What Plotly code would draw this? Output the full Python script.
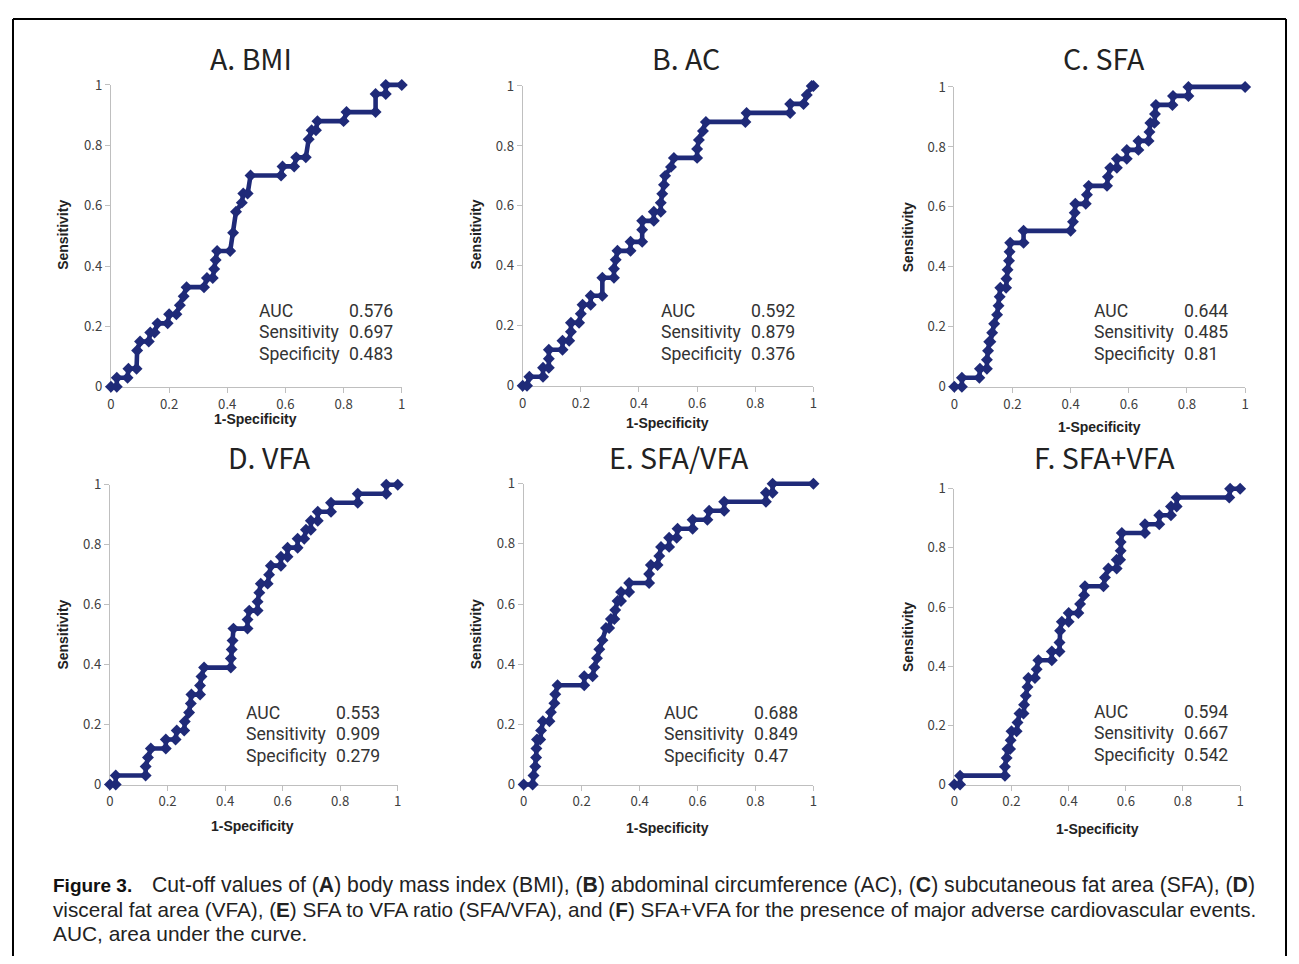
import plotly.graph_objects as go

# The page keeps the browser's default 8px body margin, so the figure is 16px smaller than the window.
WIN_W, WIN_H = 1299, 964
OFF = 8
FW, FH = WIN_W - 2 * OFF, WIN_H - 2 * OFF
# measured capture transform of the photographed page (window px -> picture px)
SX, OX = 0.9945, 3.0
SY, OY = 0.9805, 10.2
FS = 1 / 0.985  # font compensation

titles = ["A. BMI", "B. AC", "C. SFA", "D. VFA", "E. SFA/VFA", "F. SFA+VFA"]
stat_labels = ["AUC", "Sensitivity", "Specificity"]
auc = ["0.576", "0.592", "0.644", "0.553", "0.688", "0.594"]
sens = ["0.697", "0.879", "0.485", "0.909", "0.849", "0.667"]
spec = ["0.483", "0.376", "0.81", "0.279", "0.47", "0.542"]
tick_vals = [0, 0.2, 0.4, 0.6, 0.8, 1]
tick_text = ["0", "0.2", "0.4", "0.6", "0.8", "1"]

bmi_fpr = [0, 0.02, 0.02, 0.057, 0.06, 0.088, 0.09, 0.10, 0.13, 0.135, 0.15, 0.16, 0.195, 0.20, 0.225, 0.237,
           0.25, 0.26, 0.32, 0.33, 0.35, 0.355, 0.36, 0.365, 0.41, 0.42, 0.43, 0.45, 0.455, 0.47, 0.48, 0.585,
           0.59, 0.63, 0.637, 0.67, 0.68, 0.69, 0.705, 0.71, 0.80, 0.81, 0.91, 0.91, 0.945, 0.945, 1.0]
bmi_tpr = [0, 0, 0.03, 0.03, 0.06, 0.06, 0.12, 0.15, 0.15, 0.18, 0.18, 0.21, 0.21, 0.24, 0.24, 0.27,
           0.30, 0.33, 0.33, 0.36, 0.36, 0.39, 0.42, 0.45, 0.45, 0.51, 0.58, 0.61, 0.64, 0.64, 0.70, 0.70,
           0.73, 0.73, 0.76, 0.76, 0.82, 0.85, 0.85, 0.88, 0.88, 0.91, 0.91, 0.97, 0.97, 1.0, 1.0]

ac_fpr = [0, 0.015, 0.023, 0.07, 0.07, 0.09, 0.09, 0.09, 0.137, 0.137, 0.16, 0.166, 0.166, 0.194, 0.20, 0.206,
          0.234, 0.234, 0.274, 0.274, 0.314, 0.314, 0.32, 0.326, 0.371, 0.371, 0.411, 0.411, 0.411, 0.451,
          0.451, 0.475, 0.475, 0.48, 0.486, 0.49, 0.51, 0.52, 0.60, 0.60, 0.606, 0.62, 0.63, 0.766, 0.77,
          0.92, 0.92, 0.966, 0.977, 0.994, 1.0]
ac_tpr = [0, 0, 0.03, 0.03, 0.06, 0.06, 0.09, 0.12, 0.12, 0.15, 0.15, 0.18, 0.21, 0.21, 0.24, 0.27,
          0.27, 0.30, 0.30, 0.36, 0.36, 0.39, 0.42, 0.45, 0.45, 0.48, 0.48, 0.52, 0.55, 0.55,
          0.58, 0.58, 0.61, 0.64, 0.67, 0.70, 0.73, 0.76, 0.76, 0.79, 0.82, 0.85, 0.88, 0.88, 0.91,
          0.91, 0.94, 0.94, 0.97, 1.0, 1.0]

sfa_fpr = [0, 0.026, 0.026, 0.086, 0.088, 0.112, 0.112, 0.116, 0.12, 0.124, 0.13, 0.137, 0.147, 0.152, 0.156,
           0.158, 0.178, 0.179, 0.183, 0.188, 0.19, 0.192, 0.238, 0.238, 0.40, 0.408, 0.414, 0.416, 0.452, 0.456,
           0.462, 0.525, 0.528, 0.536, 0.559, 0.559, 0.593, 0.593, 0.633, 0.633, 0.668, 0.671, 0.674, 0.688,
           0.69, 0.693, 0.75, 0.752, 0.805, 0.805, 1.0]
sfa_tpr = [0, 0, 0.03, 0.03, 0.06, 0.06, 0.09, 0.12, 0.15, 0.15, 0.18, 0.21, 0.24, 0.27, 0.30,
           0.33, 0.33, 0.36, 0.39, 0.42, 0.45, 0.48, 0.48, 0.52, 0.52, 0.55, 0.58, 0.61, 0.61, 0.64,
           0.67, 0.67, 0.70, 0.73, 0.73, 0.76, 0.76, 0.79, 0.79, 0.82, 0.82, 0.85, 0.88, 0.88,
           0.91, 0.94, 0.94, 0.97, 0.97, 1.0, 1.0]

vfa_fpr = [0, 0.02, 0.02, 0.124, 0.124, 0.132, 0.142, 0.194, 0.194, 0.228, 0.232, 0.258, 0.26, 0.275, 0.281,
           0.283, 0.313, 0.313, 0.318, 0.327, 0.42, 0.42, 0.423, 0.426, 0.429, 0.478, 0.478, 0.484, 0.513, 0.513,
           0.519, 0.524, 0.548, 0.553, 0.559, 0.594, 0.594, 0.617, 0.617, 0.652, 0.652, 0.675, 0.681, 0.698,
           0.698, 0.722, 0.722, 0.768, 0.768, 0.861, 0.861, 0.96, 0.96, 1.0]
vfa_tpr = [0, 0, 0.03, 0.03, 0.06, 0.09, 0.12, 0.12, 0.15, 0.15, 0.18, 0.18, 0.21, 0.24, 0.27,
           0.30, 0.30, 0.33, 0.36, 0.39, 0.39, 0.42, 0.45, 0.48, 0.52, 0.52, 0.55, 0.58, 0.58, 0.61,
           0.64, 0.67, 0.67, 0.70, 0.73, 0.73, 0.76, 0.76, 0.79, 0.79, 0.82, 0.82, 0.85, 0.85,
           0.88, 0.88, 0.91, 0.91, 0.94, 0.94, 0.97, 0.97, 1.0, 1.0]

ratio_fpr = [0, 0.031, 0.034, 0.04, 0.043, 0.044, 0.046, 0.057, 0.06, 0.066, 0.089, 0.094, 0.106, 0.109, 0.117,
             0.209, 0.209, 0.238, 0.244, 0.253, 0.261, 0.272, 0.284, 0.295, 0.301, 0.313, 0.316, 0.324, 0.336,
             0.336, 0.364, 0.364, 0.433, 0.433, 0.439, 0.462, 0.468, 0.474, 0.502, 0.502, 0.528, 0.531, 0.583,
             0.583, 0.634, 0.64, 0.692, 0.692, 0.836, 0.836, 0.859, 0.859, 1.0]
ratio_tpr = [0, 0, 0.03, 0.06, 0.09, 0.12, 0.15, 0.15, 0.18, 0.21, 0.21, 0.24, 0.27, 0.30, 0.33,
             0.33, 0.36, 0.36, 0.39, 0.42, 0.45, 0.48, 0.52, 0.52, 0.55, 0.55, 0.58, 0.61, 0.61,
             0.64, 0.64, 0.67, 0.67, 0.70, 0.73, 0.73, 0.76, 0.79, 0.79, 0.82, 0.82, 0.85, 0.85,
             0.88, 0.88, 0.91, 0.91, 0.94, 0.94, 0.97, 0.97, 1.0, 1.0]

sum_fpr = [0, 0.02, 0.02, 0.177, 0.177, 0.183, 0.186, 0.195, 0.197, 0.2, 0.218, 0.221, 0.228, 0.242, 0.244,
           0.25, 0.256, 0.259, 0.282, 0.288, 0.294, 0.341, 0.341, 0.368, 0.368, 0.37, 0.376, 0.4, 0.4, 0.434,
           0.44, 0.454, 0.457, 0.522, 0.527, 0.539, 0.568, 0.568, 0.58, 0.582, 0.582, 0.586, 0.667, 0.667,
           0.717, 0.717, 0.758, 0.758, 0.778, 0.778, 0.962, 0.965, 1.0]
sum_tpr = [0, 0, 0.03, 0.03, 0.06, 0.09, 0.12, 0.12, 0.15, 0.18, 0.18, 0.21, 0.24, 0.24, 0.27,
           0.30, 0.33, 0.36, 0.36, 0.39, 0.42, 0.42, 0.45, 0.45, 0.48, 0.52, 0.55, 0.55, 0.58, 0.58,
           0.61, 0.64, 0.67, 0.67, 0.70, 0.73, 0.73, 0.76, 0.76, 0.79, 0.82, 0.85, 0.85, 0.88,
           0.88, 0.91, 0.91, 0.94, 0.94, 0.97, 0.97, 1.0, 1.0]

curves = [(bmi_fpr, bmi_tpr), (ac_fpr, ac_tpr), (sfa_fpr, sfa_tpr),
          (vfa_fpr, vfa_tpr), (ratio_fpr, ratio_tpr), (sum_fpr, sum_tpr)]

# layout geometry (target picture pixels)
boxes = [(110, 401, 85, 387), (522, 813, 86, 386), (954, 1245, 87, 387),
         (109, 397, 485, 785), (523, 813, 484, 785), (954, 1240, 489, 785)]
title_pos = [(250, 58), (685, 58), (1104, 58), (269, 457), (678, 457), (1104, 457)]
xt_pos = [(255, 419), (667, 423), (1099, 427), (252, 826), (667, 828), (1097, 829)]
yt_pos = [(62, 235), (475, 235), (907, 237), (62, 635), (475, 635), (907, 637)]
stat_pos = [(256, 346, 311), (658, 749, 311), (1092, 1182, 311),
            (243, 333, 713), (661, 752, 713), (1092, 1182, 712)]
LINE_GAP = 21.7


def px(x):
    return ((x - OX) / SX - OFF) / FW


def py(y):
    return 1 - ((y - OY) / SY - OFF) / FH


PAD = 12  # extra pixels around each curve's drawing area so thick lines on the edges are not clipped

NAVY = "#1f2a78"
TXT = "#404040"
FONT = "Noto Sans CJK JP, Noto Sans, sans-serif"
STAT_FONT = "Roboto, Noto Sans, sans-serif"
BOLD = "Liberation Sans, Arial, sans-serif"

fig = go.Figure()
annotations = []
for i, ((fx, ty), (x0, x1, y0, y1)) in enumerate(zip(curves, boxes)):
    va = "" if i == 0 else str(2 * i + 1)     # visible axes
    ca = str(2 * i + 2)                       # curve axes (hidden, padded)
    ex = PAD / (x1 - x0)
    ey = PAD / (y1 - y0)
    axcommon = dict(range=[0, 1], showgrid=False, zeroline=False, showline=True, linecolor="#bfbfbf",
                    linewidth=1, ticks="outside", ticklen=5, tickcolor="#bfbfbf", tickvals=tick_vals,
                    ticktext=tick_text, tickfont=dict(family=FONT, size=13 * FS, color=TXT), fixedrange=True)
    fig.layout["xaxis" + va] = dict(domain=[px(x0), px(x1)], anchor="y" + va, **axcommon)
    fig.layout["yaxis" + va] = dict(domain=[py(y1), py(y0)], anchor="x" + va, **axcommon)
    hidden = dict(showgrid=False, zeroline=False, showline=False, showticklabels=False, ticks="",
                  fixedrange=True)
    fig.layout["xaxis" + ca] = dict(domain=[px(x0 - PAD), px(x1 + PAD)], range=[-ex, 1 + ex],
                                    anchor="y" + ca, **hidden)
    fig.layout["yaxis" + ca] = dict(domain=[py(y1 + PAD), py(y0 - PAD)], range=[-ey, 1 + ey],
                                    anchor="x" + ca, **hidden)
    # invisible copy so the visible axes get drawn
    fig.add_trace(go.Scatter(x=fx, y=ty, mode="lines", xaxis="x" + va, yaxis="y" + va, opacity=0,
                             line=dict(width=0), showlegend=False, hoverinfo="skip"))
    fig.add_trace(go.Scatter(
        x=fx, y=ty, mode="lines+markers", xaxis="x" + ca, yaxis="y" + ca,
        line=dict(color=NAVY, width=4.6), marker=dict(symbol="diamond", size=9.2, color=NAVY),
        cliponaxis=False, showlegend=False, hoverinfo="skip"))

    tx, tyy = title_pos[i]
    annotations.append(dict(x=px(tx), y=py(tyy), text=titles[i], showarrow=False, xref="paper", yref="paper",
                            xanchor="center", yanchor="middle",
                            font=dict(family=FONT, size=28.5, color="#222222")))
    ax_, ay_ = xt_pos[i]
    annotations.append(dict(x=px(ax_), y=py(ay_), text="<b>1-Specificity</b>", showarrow=False, xref="paper",
                            yref="paper", xanchor="center", yanchor="middle",
                            font=dict(family=BOLD, size=14, color="#222222")))
    bx_, by_ = yt_pos[i]
    annotations.append(dict(x=px(bx_), y=py(by_), text="<b>Sensitivity</b>", showarrow=False, xref="paper",
                            yref="paper", xanchor="center", yanchor="middle", textangle=-90,
                            font=dict(family=BOLD, size=14, color="#222222")))
    lx, vx, sy = stat_pos[i]
    for k, (lab, val) in enumerate(zip(stat_labels, [auc[i], sens[i], spec[i]])):
        yy = sy + k * LINE_GAP
        annotations.append(dict(x=px(lx), y=py(yy), text=lab, showarrow=False, xref="paper", yref="paper",
                                xanchor="left", yanchor="middle",
                                font=dict(family=STAT_FONT, size=17.6, color="#333333")))
        annotations.append(dict(x=px(vx), y=py(yy), text=val, showarrow=False, xref="paper", yref="paper",
                                xanchor="left", yanchor="middle",
                                font=dict(family=STAT_FONT, size=17.6, color="#333333")))

cap_lines = [
    (149, 886, 21.2, "Cut-off values of (<b>A</b>) body mass index (BMI), (<b>B</b>) abdominal circumference (AC), "
                     "(<b>C</b>) subcutaneous fat area (SFA), (<b>D</b>)"),
    (50, 910, 20.7, "visceral fat area (VFA), (<b>E</b>) SFA to VFA ratio (SFA/VFA), and (<b>F</b>) SFA+VFA for "
                    "the presence of major adverse cardiovascular events."),
    (50, 934, 20.9, "AUC, area under the curve."),
]
annotations.append(dict(x=px(50), y=py(886), text="<b>Figure 3.</b>", showarrow=False, xref="paper",
                        yref="paper", xanchor="left", yanchor="middle",
                        font=dict(family="Liberation Sans Narrow, Arial Narrow, Liberation Sans, Arial",
                                  size=19, color="#111111")))
for cx, cy, fsz, t in cap_lines:
    annotations.append(dict(x=px(cx), y=py(cy), text=t, showarrow=False, xref="paper", yref="paper",
                            xanchor="left", yanchor="middle",
                            font=dict(family=BOLD, size=fsz, color="#222222")))

# frame around the whole figure (kept inside the drawable area)
fx0, fx1 = 1 / FW, (FW - 1) / FW
fy_top = 1 - 1 / FH
shapes = [
    dict(type="line", xref="paper", yref="paper", x0=fx0, x1=fx1, y0=fy_top, y1=fy_top,
         line=dict(color="black", width=2)),
    dict(type="line", xref="paper", yref="paper", x0=fx0, x1=fx0, y0=fy_top, y1=-0.01,
         line=dict(color="black", width=2)),
    dict(type="line", xref="paper", yref="paper", x0=fx1, x1=fx1, y0=fy_top, y1=-0.01,
         line=dict(color="black", width=2)),
]

fig.update_layout(width=FW, height=FH, margin=dict(l=0, r=0, t=0, b=0), paper_bgcolor="white",
                  plot_bgcolor="rgba(0,0,0,0)", annotations=annotations, shapes=shapes, showlegend=False)
fig.write_html("out.html", config={"displayModeBar": False})
